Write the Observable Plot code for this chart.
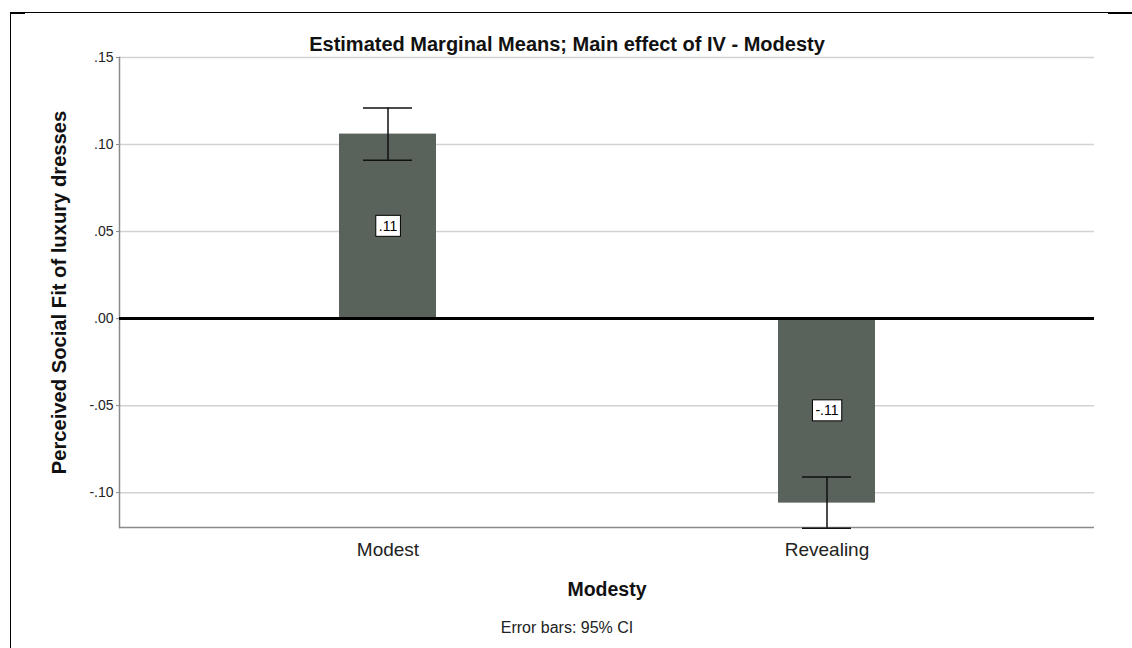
<!DOCTYPE html>
<html>
<head>
<meta charset="utf-8">
<script src="https://cdn.jsdelivr.net/npm/d3@7"></script>
<script src="https://cdn.jsdelivr.net/npm/@observablehq/plot@0.6"></script>
<style>
  body { margin: 0; background: #fff; }
  #wrap { position: relative; width: 1132px; height: 648px; overflow: hidden; background: #fff; }
  #frame { position: absolute; left: 10px; top: 12px; width: 1098px; height: 640px;
           border-left: 1.5px solid #000; border-top: 1px solid #000; pointer-events: none; }
  #cornerL { position: absolute; left: 10px; top: 12px; width: 15px; height: 2px; background: #000; }
  #cornerR { position: absolute; left: 1108px; top: 12px; width: 24px; height: 2px; background: #000; }
</style>
</head>
<body>
<div id="wrap"><div id="chart"></div><div id="frame"></div><div id="cornerL"></div><div id="cornerR"></div></div>
<script>
// ---- data ----
const categories = ["Modest", "Revealing"];
const means = [0.106, -0.106];
const ciLow = [0.091, -0.1205];
const ciHigh = [0.121, -0.091];
const yTicks = [-0.10, -0.05, 0.00, 0.05, 0.10, 0.15];
const titleText = "Estimated Marginal Means; Main effect of IV - Modesty";
const yTitle = "Perceived Social Fit of luxury dresses";
const xTitle = "Modesty";
const captionText = "Error bars: 95% CI";

const fmt = d => (d < 0 ? "-" : "") + Math.abs(d).toFixed(2).replace(/^0/, "");
const data = categories.map((c, i) => ({cat: c, mean: means[i], lo: ciLow[i], hi: ciHigh[i], label: fmt(means[i])}));
const labelSet = new Set(data.map(d => d.label));

const FONT = "'Liberation Sans', Arial, Helvetica, sans-serif";

const chart = Plot.plot({
  width: 1132,
  height: 648,
  marginLeft: 119,
  marginRight: 38,
  marginTop: 57,
  marginBottom: 121,
  style: {fontFamily: FONT, background: "#fff", color: "#222"},
  x: {domain: categories, paddingInner: 0.78, paddingOuter: 0.5, label: null},
  y: {domain: [-0.12, 0.15], label: null},
  marks: [
    Plot.ruleY(yTicks, {stroke: "#d2d2d2", strokeWidth: 1.5}),
    Plot.ruleY([-0.12], {stroke: "#8a8a8a", strokeWidth: 1.5}),
    Plot.frame({anchor: "left", stroke: "#8a8a8a", strokeWidth: 1.5}),
    Plot.barY(data, {x: "cat", y: "mean", fill: "#5a625c"}),
    Plot.ruleY([0], {stroke: "#000", strokeWidth: 3}),
    Plot.ruleX(data, {x: "cat", y1: "lo", y2: "hi", stroke: "#111", strokeWidth: 1.5}),
    Plot.tickY(data, {x: "cat", y: "lo", inset: 24, stroke: "#111", strokeWidth: 1.5}),
    Plot.tickY(data, {x: "cat", y: "hi", inset: 24, stroke: "#111", strokeWidth: 1.5}),
    Plot.text(data, {x: "cat", y: d => d.mean / 2, text: "label", fontSize: 14, fill: "#000"}),
    Plot.axisY({ticks: yTicks, tickFormat: fmt, tickSize: 3, tickPadding: 3, stroke: "#8a8a8a", fontSize: 14, fill: "#222", label: null}),
    Plot.axisX({tickSize: 0, tickPadding: 15, fontSize: 19, fill: "#222", label: null}),
    Plot.text([titleText], {frameAnchor: "top", dx: -40, dy: -13, lineAnchor: "middle", fontSize: 20, fontWeight: "bold", fill: "#111"}),
    Plot.text([yTitle], {frameAnchor: "left", dx: -60, rotate: -90, textAnchor: "middle", lineAnchor: "middle", fontSize: 20.2, fontWeight: "bold", fill: "#111"}),
    Plot.text([xTitle], {frameAnchor: "bottom", dy: 62, lineAnchor: "middle", fontSize: 19.5, fontWeight: "bold", fill: "#111"}),
    Plot.text([captionText], {frameAnchor: "bottom", dx: -40, dy: 100, lineAnchor: "middle", fontSize: 16, fill: "#222"})
  ]
});
document.getElementById("chart").appendChild(chart);

// white boxes behind the value labels
chart.querySelectorAll("text").forEach(t => {
  if (!labelSet.has(t.textContent)) return;
  const b = t.getBBox();
  const r = document.createElementNS("http://www.w3.org/2000/svg", "rect");
  r.setAttribute("x", b.x - 3);
  r.setAttribute("y", b.y - 2.5);
  r.setAttribute("width", b.width + 6);
  r.setAttribute("height", b.height + 5);
  r.setAttribute("fill", "#fff");
  r.setAttribute("stroke", "#000");
  r.setAttribute("stroke-width", 1);
  if (t.getAttribute("transform")) r.setAttribute("transform", t.getAttribute("transform"));
  t.parentNode.insertBefore(r, t);
});
</script>
</body>
</html>
